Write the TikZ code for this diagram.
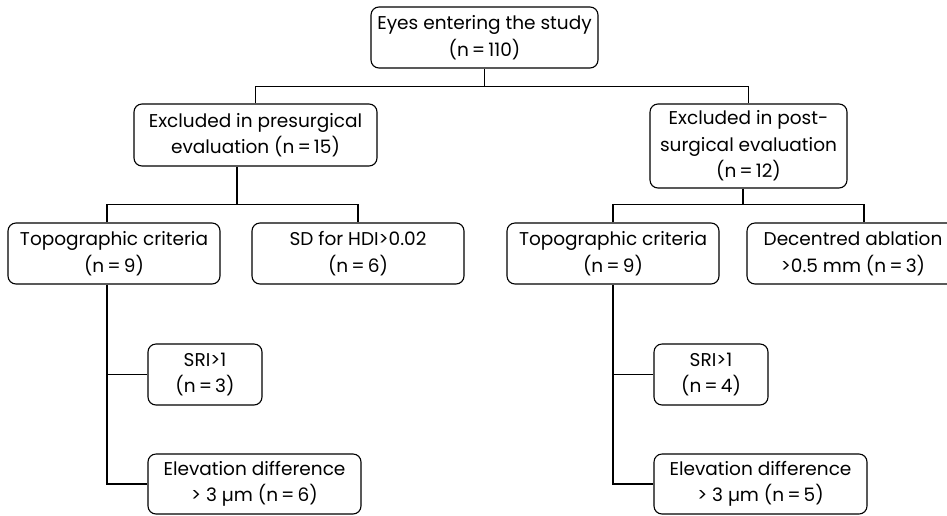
\documentclass[tikz,border=0pt]{standalone}
\usepackage{fontspec}
\setmainfont{Poppins}
\tikzset{box/.style={draw,rounded corners=8pt,line width=1.1pt,align=center,
    inner sep=2pt,font=\fontsize{18.5}{26.5}\selectfont},
  link/.style={line width=1.1pt}}
\begin{document}
\begin{tikzpicture}[x=1pt,y=-1pt]
\useasboundingbox (0,0) rectangle (947,515);
% boxes, positions in pixels of the 947x515 frame
\node[box,minimum width=227pt,minimum height=61pt] (eyes) at (484.5,37.5) {Eyes entering the study\\(n\,=\,110)};
\node[box,minimum width=243pt,minimum height=62pt] (pre) at (255.5,135) {Excluded in presurgical\\evaluation (n\,=\,15)};
\node[box,minimum width=197pt,minimum height=84pt] (post) at (748.5,146) {Excluded in post-\\surgical evaluation\\(n\,=\,12)};
\node[box,minimum width=212pt,minimum height=61pt] (topoL) at (114,253.5) {Topographic criteria\\(n\,=\,9)};
\node[box,minimum width=212pt,minimum height=61pt] (sdL) at (358,253.5) {SD for HDI>0.02\\(n\,=\,6)};
\node[box,minimum width=212pt,minimum height=61pt] (topoR) at (613,253.5) {Topographic criteria\\(n\,=\,9)};
\node[box,minimum width=212pt,minimum height=61pt] (dec) at (853,253.5) {Decentred ablation\\>0.5 mm (n\,=\,3)};
\node[box,minimum width=114pt,minimum height=61pt] (sriL) at (205,374.5) {SRI>1\\(n\,=\,3)};
\node[box,minimum width=213pt,minimum height=60pt] (elevL) at (254.5,484) {Elevation difference\\> 3 µm (n\,=\,6)};
\node[box,minimum width=114pt,minimum height=61pt] (sriR) at (711,374.5) {SRI>1\\(n\,=\,4)};
\node[box,minimum width=213pt,minimum height=60pt] (elevR) at (760.5,484) {Elevation difference\\> 3 µm (n\,=\,5)};
% connectors
\draw[link] (eyes.south) -- ++(0,18) coordinate (t1);
\draw[link] (pre.north) |- (t1) -| (post.north);
\draw[link] ([xshift=-18.5]pre.south) -- ++(0,38) coordinate (p1);
\draw[link] ([xshift=-7]topoL.north) |- (p1) -| (sdL.north);
\draw[link] ([xshift=-5.5]post.south) -- ++(0,16) coordinate (q1);
\draw[link] (topoR.north) |- (q1) -| ([xshift=11]dec.north);
\draw[link] ([xshift=-7]topoL.south) coordinate (vL) |- (elevL.west);
\draw[link] (sriL.west) -- (sriL.west -| vL);
\draw[link] (topoR.south) coordinate (vR) |- (elevR.west);
\draw[link] (sriR.west) -- (sriR.west -| vR);
\end{tikzpicture}
\end{document}
